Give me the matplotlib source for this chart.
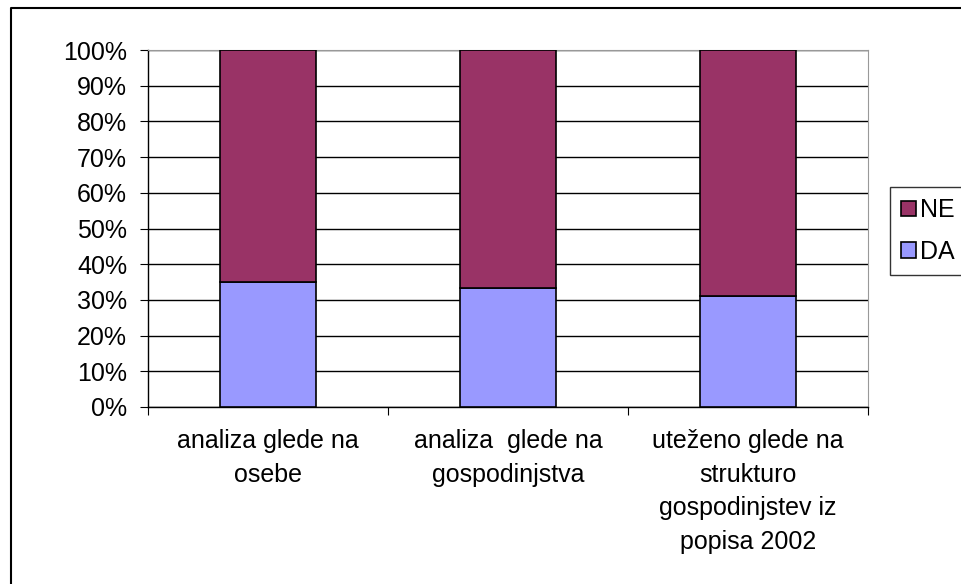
import matplotlib.pyplot as plt
from matplotlib.lines import Line2D
import numpy as np

plt.rcParams['font.family'] = ['Liberation Sans', 'DejaVu Sans']

categories = ['analiza glede na\nosebe', 'analiza  glede na\ngospodinjstva',
              'uteženo glede na\nstrukturo\ngospodinjstev iz\npopisa 2002']
da = [35.0, 33.3, 31.1]
ne = [100 - v for v in da]

fig = plt.figure(figsize=(9.61, 5.84), dpi=100)
# outer chart frame (only left and top edges visible)
fig.lines.append(Line2D([10.5 / 961, 10.5 / 961, 1], [0, 1 - 7.5 / 584, 1 - 7.5 / 584],
                        transform=fig.transFigure, color='black', linewidth=1.5))
ax = fig.add_axes([148 / 961, 177 / 584, 720 / 961, 357 / 584])

x = np.arange(len(categories))
ax.bar(x, da, width=0.4, color='#9999FF', edgecolor='black', linewidth=1.2, label='DA', zorder=3)
ax.bar(x, ne, bottom=da, width=0.4, color='#993366', edgecolor='black', linewidth=1.2, label='NE', zorder=3)

ax.set_xlim(-0.5, 2.5)
ax.set_ylim(0, 100)
ax.set_yticks(np.arange(0, 101, 10))
ax.set_yticklabels([f'{v}%' for v in range(0, 101, 10)], fontsize=18)
ax.yaxis.grid(True, color='black', linewidth=1)
ax.set_axisbelow(True)

ax.set_xticks([-0.5, 0.5, 1.5, 2.5])
ax.set_xticklabels([])
ax.set_xticks(x, minor=True)
ax.set_xticklabels(categories, minor=True, fontsize=18, linespacing=1.5)
ax.tick_params(axis='x', which='minor', length=0, pad=16)
ax.tick_params(axis='both', which='major', length=6, direction='out')
ax.tick_params(axis='y', which='major', pad=9)

for s in ['top', 'right']:
    ax.spines[s].set_color('#999999')
ax.spines['left'].set_linewidth(1)
ax.spines['bottom'].set_linewidth(1)

h, l = ax.get_legend_handles_labels()
leg = fig.legend(h[::-1], l[::-1], loc='center left', bbox_to_anchor=(890 / 961, (584 - 231) / 584),
                 fontsize=18, frameon=True, fancybox=False, edgecolor='black',
                 handlelength=0.6, handleheight=0.6, handletextpad=0.15, borderpad=0.45,
                 labelspacing=0.7, borderaxespad=0)
leg.get_frame().set_linewidth(1)

plt.savefig('out.png', dpi=100)
